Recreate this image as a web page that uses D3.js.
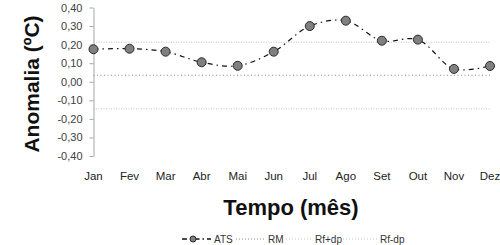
<!DOCTYPE html>
<html><head><meta charset="utf-8">
<script src="https://cdn.jsdelivr.net/npm/d3@7"></script>
<style>body{margin:0;background:#fff}svg{display:block;font-family:Arial,"Liberation Sans",sans-serif}</style>
</head><body><svg id="c" width="500" height="245"></svg>
<script>
const months = ["Jan","Fev","Mar","Abr","Mai","Jun","Jul","Ago","Set","Out","Nov","Dez"];
const ats = [0.175,0.178,0.162,0.105,0.086,0.162,0.300,0.329,0.221,0.227,0.069,0.085];
const rm = 0.035;
const rfPlus = 0.213;
const rfMinus = -0.146;
const yTicks = [0.4,0.3,0.2,0.1,0,-0.1,-0.2,-0.3,-0.4];
const legendLabels = ["ATS","RM","Rf+dp","Rf-dp"];

const svg = d3.select("#c");
const x = d3.scalePoint().domain(months).range([93.5, 490]);
const y = d3.scaleLinear().domain([-0.4, 0.4]).range([156, 7.5]);
const fmt = d => d3.format(".2f")(d).replace(".", ",").replace("−","-");

// reference lines
const refs = [
  {v: rfPlus, c: "#c4c4c4", dash: "1,1.5"},
  {v: rm, c: "#8a8a8a", dash: "1,2.5"},
  {v: rfMinus, c: "#c4c4c4", dash: "1,1.5"}
];
svg.selectAll("line.ref").data(refs).join("line")
  .attr("x1", x("Jan")).attr("x2", x("Dez"))
  .attr("y1", d => y(d.v)).attr("y2", d => y(d.v))
  .attr("stroke", d => d.c).attr("stroke-width", 1)
  .attr("stroke-dasharray", d => d.dash);

// y axis
const yAxis = svg.append("g").attr("transform", "translate(93.5,0)")
  .call(d3.axisLeft(y).tickValues(yTicks).tickFormat(fmt).tickSize(4).tickSizeOuter(0));
yAxis.select(".domain").attr("stroke", "#a6a6a6");
yAxis.selectAll(".tick line").attr("stroke", "#a6a6a6");
yAxis.selectAll(".tick text").attr("font-size", 11).attr("fill", "#404040")
  .attr("font-family", "Arial, 'Liberation Sans', sans-serif").attr("x", -11);

// x labels
svg.selectAll("text.xl").data(months).join("text")
  .attr("x", d => x(d)).attr("y", 180)
  .attr("text-anchor", "middle").attr("font-size", 11.5).attr("fill", "#222")
  .text(d => d);

// ATS line
const line = d3.line().x((d,i) => x(months[i])).y(d => y(d)).curve(d3.curveCatmullRom.alpha(0.5));
svg.append("path").datum(ats).attr("d", line)
  .attr("fill", "none").attr("stroke", "#111").attr("stroke-width", 1.2)
  .attr("stroke-dasharray", "5,4,1.5,4");
svg.selectAll("circle.pt").data(ats).join("circle")
  .attr("cx", (d,i) => x(months[i])).attr("cy", d => y(d)).attr("r", 4.5)
  .attr("fill", "#808080").attr("stroke", "#2a2a2a").attr("stroke-width", 1);

// titles
svg.append("text").attr("transform", "translate(39,84) rotate(-90)")
  .attr("text-anchor", "middle").attr("font-size", 21).attr("font-weight", "bold").attr("fill", "#111")
  .text("Anomalia (ºC)");
svg.append("text").attr("x", 291).attr("y", 215)
  .attr("text-anchor", "middle").attr("font-size", 22).attr("font-weight", "bold").attr("fill", "#111")
  .text("Tempo (mês)");

// legend
const leg = [
  {x1: 182, x2: 211, tx: 214},
  {x1: 236, x2: 266, tx: 268},
  {x1: 286, x2: 313, tx: 315},
  {x1: 331, x2: 377, tx: 380}
];
const ly = 239;
leg.forEach((p, i) => {
  if (i === 0) {
    svg.append("line").attr("x1", p.x1).attr("x2", p.x2).attr("y1", ly).attr("y2", ly)
      .attr("stroke", "#111").attr("stroke-width", 1.4).attr("stroke-dasharray", "5,3,1.5,3");
    svg.append("circle").attr("cx", 193).attr("cy", ly).attr("r", 3)
      .attr("fill", "#808080").attr("stroke", "#2a2a2a");
  } else {
    svg.append("line").attr("x1", p.x1).attr("x2", p.x2).attr("y1", ly).attr("y2", ly)
      .attr("stroke", refs[i === 1 ? 1 : (i === 2 ? 0 : 2)].c).attr("stroke-width", 1)
      .attr("stroke-dasharray", "1,2");
  }
  svg.append("text").attr("x", p.tx).attr("y", ly + 3.5).attr("font-size", 10).attr("fill", "#333")
    .text(legendLabels[i]);
});
</script></body></html>
